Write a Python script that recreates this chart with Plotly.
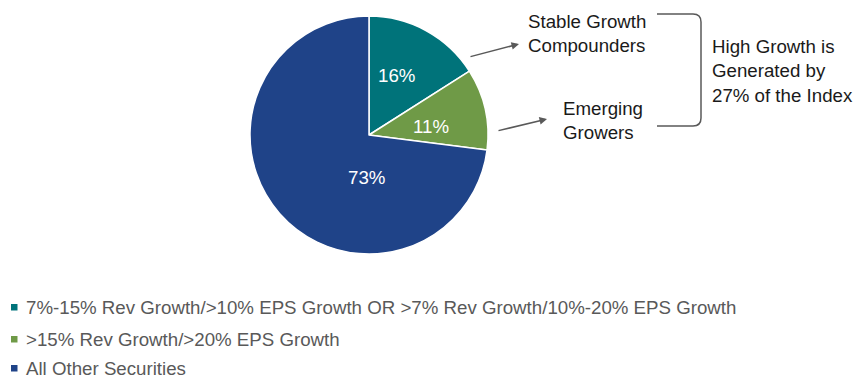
import plotly.graph_objects as go

# Share of index constituents by growth profile
categories = [
    "7%-15% Rev Growth/>10% EPS Growth OR >7% Rev Growth/10%-20% EPS Growth",
    ">15% Rev Growth/>20% EPS Growth",
    "All Other Securities",
]
shares = [16, 11, 73]
colors = ["#00737A", "#6F9A47", "#1F4388"]

callouts = ["Stable Growth<br>Compounders", "Emerging<br>Growers"]
summary = "High Growth is<br>Generated by<br>27% of the Index"

W, H = 857, 379


def px(x):
    return x / W


def py(y):
    return 1 - y / H


FONT = "Liberation Sans, Arial, sans-serif"
FS = 18.7

fig = go.Figure()
fig.add_trace(go.Pie(
    labels=categories,
    values=shares,
    sort=False,
    direction="clockwise",
    rotation=0,
    marker=dict(colors=colors, line=dict(color="white", width=1.5)),
    textinfo="none",
    domain=dict(x=[px(250), px(488)], y=[py(254), py(16)]),
    showlegend=False,
    hoverinfo="label+percent",
))

annotations = []
shapes = []

# Percentage labels placed inside each slice (pixel centres)
label_pos = [(396, 76), (431, 126), (366, 177)]
for v, (lx, ly) in zip(shares, label_pos):
    annotations.append(dict(text=f"{v}%", xref="paper", yref="paper",
                            x=px(lx), y=py(ly), xanchor="center", yanchor="middle",
                            showarrow=False,
                            font=dict(size=FS, color="white", family=FONT)))

# Legend rows: small colour square plus label
row_y = [307, 339, 368]
for label, col, yy in zip(categories, colors, row_y):
    shapes.append(dict(type="rect", xref="paper", yref="paper",
                       x0=px(11), x1=px(17.5), y0=py(yy + 3.5), y1=py(yy - 3),
                       fillcolor=col, line=dict(width=0)))
    annotations.append(dict(text=label, xref="paper", yref="paper",
                            x=px(24), y=py(yy), xanchor="left", yanchor="middle",
                            showarrow=False,
                            font=dict(size=FS, color="#595959", family=FONT)))

# Callout labels
annotations.append(dict(text=callouts[0], xref="paper", yref="paper",
                        x=px(526), y=py(33), xanchor="left", yanchor="middle",
                        align="left", showarrow=False,
                        font=dict(size=FS, color="#1a1a1a", family=FONT)))
annotations.append(dict(text=callouts[1], xref="paper", yref="paper",
                        x=px(561), y=py(121), xanchor="left", yanchor="middle",
                        align="left", showarrow=False,
                        font=dict(size=FS, color="#1a1a1a", family=FONT)))
annotations.append(dict(text=summary, xref="paper", yref="paper",
                        x=px(710), y=py(71), xanchor="left", yanchor="middle",
                        align="left", showarrow=False,
                        font=dict(size=FS, color="#1a1a1a", family=FONT)))

# Arrows from slices to callouts
for (hx, hy), (tx, ty) in [((519, 44), (469, 57)), ((547, 119), (497, 131))]:
    annotations.append(dict(text="", xref="paper", yref="paper",
                            x=px(hx), y=py(hy), ax=tx - hx, ay=ty - hy,
                            showarrow=True, arrowhead=2, arrowsize=1,
                            arrowwidth=1.5, arrowcolor="#595959"))

# Bracket grouping the two high-growth callouts
bx0, bx1, by0, by1, r = 657, 701, 14, 126, 8
path = (f"M {px(bx0)},{py(by0)} L {px(bx1 - r)},{py(by0)} "
        f"Q {px(bx1)},{py(by0)} {px(bx1)},{py(by0 + r)} "
        f"L {px(bx1)},{py(by1 - r)} "
        f"Q {px(bx1)},{py(by1)} {px(bx1 - r)},{py(by1)} "
        f"L {px(bx0)},{py(by1)}")
shapes.append(dict(type="path", xref="paper", yref="paper", path=path,
                   line=dict(color="#595959", width=1.5)))

fig.update_layout(
    width=W, height=H,
    margin=dict(l=0, r=0, t=0, b=0),
    paper_bgcolor="white",
    plot_bgcolor="white",
    annotations=annotations,
    shapes=shapes,
    font=dict(family=FONT),
)

fig.write_html("out.html")
